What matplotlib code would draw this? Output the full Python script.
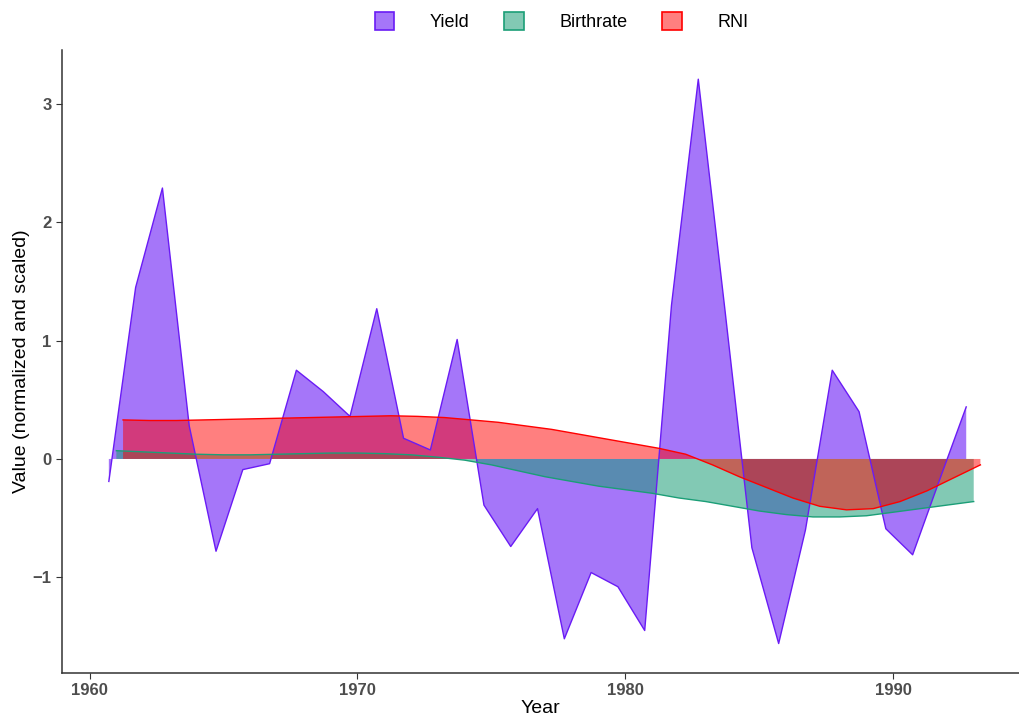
import matplotlib.pyplot as plt
import numpy as np
from matplotlib.patches import Patch
from matplotlib.colors import to_rgba

plt.rcParams['font.family'] = ['Liberation Sans', 'DejaVu Sans']

# data
yield_x = np.arange(1961, 1994) - 0.28
yield_val = [-0.19, 1.45, 2.29, 0.28, -0.78, -0.09, -0.04, 0.75, 0.57, 0.36,
             1.27, 0.175, 0.076, 1.01, -0.39, -0.74, -0.42, -1.52, -0.96, -1.08,
             -1.45, 1.30, 3.21, 1.25, -0.75, -1.56, -0.60, 0.75, 0.40, -0.59,
             -0.81, -0.18, 0.44]

birth_x = np.arange(1961, 1994)
birth_val = [0.07, 0.06, 0.05, 0.04, 0.035, 0.035, 0.04, 0.045, 0.05, 0.05,
             0.045, 0.035, 0.015, -0.01, -0.05, -0.10, -0.15, -0.19, -0.23, -0.26,
             -0.29, -0.33, -0.36, -0.40, -0.44, -0.47, -0.49, -0.49, -0.48, -0.45,
             -0.42, -0.39, -0.36]

rni_x = np.arange(1961, 1994) + 0.25
rni_val = [0.33, 0.325, 0.325, 0.33, 0.335, 0.34, 0.345, 0.35, 0.355, 0.36,
           0.365, 0.36, 0.35, 0.33, 0.31, 0.28, 0.25, 0.21, 0.17, 0.13,
           0.09, 0.04, -0.05, -0.15, -0.24, -0.33, -0.40, -0.43, -0.42, -0.36,
           -0.27, -0.16, -0.05]

series = [
    ('Yield', yield_x, yield_val, '#6A1BF5', 0.6),
    ('Birthrate', birth_x, birth_val, '#1B9E77', 0.55),
    ('RNI', rni_x, rni_val, '#FF0000', 0.5),
]

fig = plt.figure(figsize=(10.19, 7.2), dpi=100)
ax = fig.add_axes([0.0608, 0.0653, 0.9392, 0.8653])

handles = []
for name, x, v, c, a in series:
    ax.fill_between(x, v, 0, facecolor=to_rgba(c, a), edgecolor='none', lw=0)
    ax.plot(x, v, color=c, lw=1.0)
    handles.append(Patch(facecolor=to_rgba(c, a), edgecolor=c, lw=1.2, label=name))

ax.set_xlim(1958.97, 1994.69)
ax.set_ylim(-1.809, 3.457)
ax.set_xticks([1960, 1970, 1980, 1990])
ax.set_yticks([-1, 0, 1, 2, 3])

for s in ['top', 'right']:
    ax.spines[s].set_visible(False)
for s in ['left', 'bottom']:
    ax.spines[s].set_color('#333333')
    ax.spines[s].set_linewidth(1.1)
ax.tick_params(length=4, color='#333333', labelsize=12, labelcolor='#4D4D4D')
for lab in ax.get_xticklabels() + ax.get_yticklabels():
    lab.set_fontweight('bold')

ax.set_xlabel('Year', fontsize=14, labelpad=1)
ax.set_ylabel('Value (normalized and scaled)', fontsize=14, labelpad=2)

fig.legend(handles=handles, loc='center', bbox_to_anchor=(0.551, 0.97), ncol=3,
           frameon=False, fontsize=13, handlelength=1.1, handleheight=1.1,
           handletextpad=1.94, columnspacing=1.94)

fig.savefig('out.png', dpi=100)
